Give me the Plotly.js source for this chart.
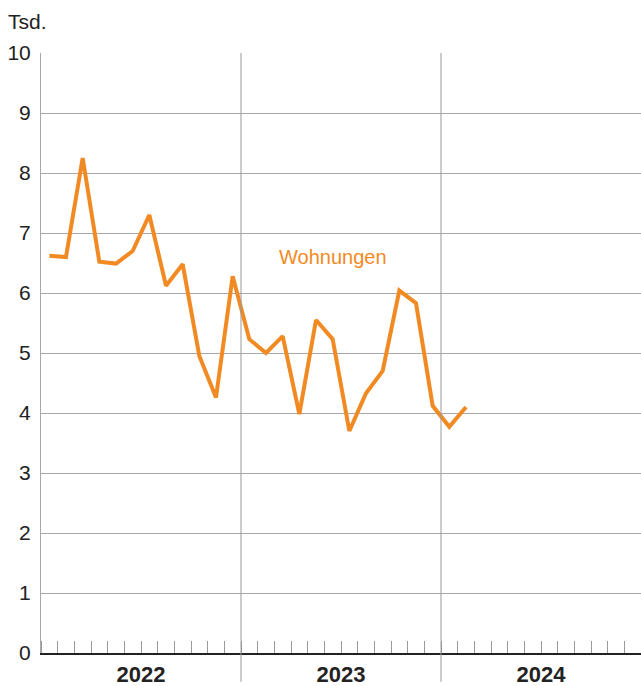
<!DOCTYPE html>
<html>
<head>
<meta charset="utf-8">
<script src="https://cdn.plot.ly/plotly-3.0.1.min.js"></script>
<style>
html,body{margin:0;padding:0;background:#fff;}
#chart{width:641px;height:686px;}
</style>
</head>
<body>
<div id="chart"></div>
<script>
// Data (thousands of dwellings), monthly Jan 2022 – Feb 2024
const months = ["2022-01","2022-02","2022-03","2022-04","2022-05","2022-06","2022-07","2022-08","2022-09","2022-10","2022-11","2022-12",
                "2023-01","2023-02","2023-03","2023-04","2023-05","2023-06","2023-07","2023-08","2023-09","2023-10","2023-11","2023-12",
                "2024-01","2024-02"];
const wohnungen = [6.62,6.60,8.25,6.52,6.49,6.70,7.30,6.12,6.48,4.95,4.26,6.28,
                   5.23,5.00,5.28,3.98,5.55,5.23,3.70,4.33,4.70,6.04,5.83,4.12,
                   3.77,4.10];
const years = ["2022","2023","2024"];
const seriesName = "Wohnungen";
const unitLabel = "Tsd.";

const xIdx = months.map((m,i)=>i);
const yearCenters = years.map((y,i)=>i*12+5.5);
const yearBounds = years.slice(1).map((y,i)=>(i+1)*12-0.5);

const trace = {
  x: xIdx, y: wohnungen, type:'scatter', mode:'lines',
  line:{color:'#F28A24', width:4, shape:'linear'},
  hoverinfo:'skip', showlegend:false
};

const shapes = yearBounds.map(b=>({
  type:'line', xref:'x', yref:'paper', x0:b, x1:b, y0:-0.048, y1:1,
  line:{color:'#9a9a9a', width:1}, layer:'above'
}));

const FONT = '"Liberation Sans", Arial, Helvetica, sans-serif';

const layout = {
  width:641, height:686,
  margin:{l:41, r:0, t:53, b:33},
  paper_bgcolor:'#fff', plot_bgcolor:'#fff',
  font:{family:FONT, color:'#222'},
  xaxis:{
    range:[-0.5,35.5], showgrid:false, zeroline:false,
    showline:true, linecolor:'#222', linewidth:2,
    tickvals:yearCenters, ticktext:years, ticks:'', ticklabelstandoff:1,
    tickfont:{size:22, family:FONT, color:'#222', weight:'bold'},
    minor:{tick0:-0.5, dtick:1, ticks:'inside', ticklen:12, tickcolor:'#999', tickwidth:1, showgrid:false},
    fixedrange:true
  },
  yaxis:{
    range:[0,10], dtick:1, tick0:0,
    showgrid:true, gridcolor:'#a8a8a8', gridwidth:1,
    zeroline:false, showline:true, linecolor:'#a8a8a8', linewidth:1,
    ticks:'', ticklabelstandoff:5,
    tickfont:{size:21, family:FONT, color:'#222'},
    fixedrange:true
  },
  shapes: shapes,
  annotations:[
    {text:unitLabel, xref:'paper', yref:'paper', x:-0.058, y:1.053, xanchor:'left', yanchor:'middle',
     showarrow:false, font:{size:21, color:'#222', family:FONT}},
    {text:seriesName, xref:'x', yref:'y', x:17.0, y:6.6, xanchor:'center', yanchor:'middle',
     showarrow:false, font:{size:20, color:'#F28A24', family:FONT}}
  ]
};

Plotly.newPlot('chart',[trace],layout,{displayModeBar:false, staticPlot:true});
</script>
</body>
</html>
